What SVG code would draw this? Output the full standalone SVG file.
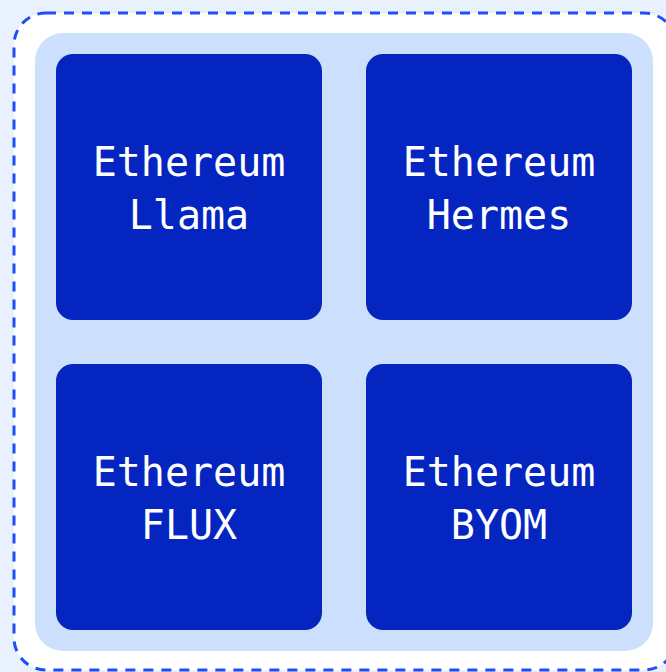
<svg xmlns="http://www.w3.org/2000/svg" width="666" height="672" viewBox="0 0 666 672">
  <style>
    .box { fill: #0525C0; }
    .lbl { fill: #FFFFFF; font-family: "DejaVu Sans Mono", "Liberation Mono", monospace; font-size: 40px; text-anchor: middle; }
  </style>
  <rect x="0" y="0" width="666" height="672" fill="#EAF1FE"/>
  <rect x="14" y="13" width="662" height="657" rx="32" ry="32" fill="#FFFFFF" stroke="#1F4DF6" stroke-width="3" stroke-dasharray="10 8"/>
  <rect x="35" y="33" width="618" height="618" rx="28" ry="28" fill="#CCE0FE"/>
  <g id="node-llama">
    <rect class="box" x="56" y="54" width="266" height="266" rx="17"/>
    <text class="lbl" x="189" y="176">Ethereum</text>
    <text class="lbl" x="189" y="229">Llama</text>
  </g>
  <g id="node-hermes">
    <rect class="box" x="366" y="54" width="266" height="266" rx="17"/>
    <text class="lbl" x="499" y="176">Ethereum</text>
    <text class="lbl" x="499" y="229">Hermes</text>
  </g>
  <g id="node-flux">
    <rect class="box" x="56" y="364" width="266" height="266" rx="17"/>
    <text class="lbl" x="189" y="486">Ethereum</text>
    <text class="lbl" x="189" y="539">FLUX</text>
  </g>
  <g id="node-byom">
    <rect class="box" x="366" y="364" width="266" height="266" rx="17"/>
    <text class="lbl" x="499" y="486">Ethereum</text>
    <text class="lbl" x="499" y="539">BYOM</text>
  </g>
  <g id="connectors"/>
</svg>
